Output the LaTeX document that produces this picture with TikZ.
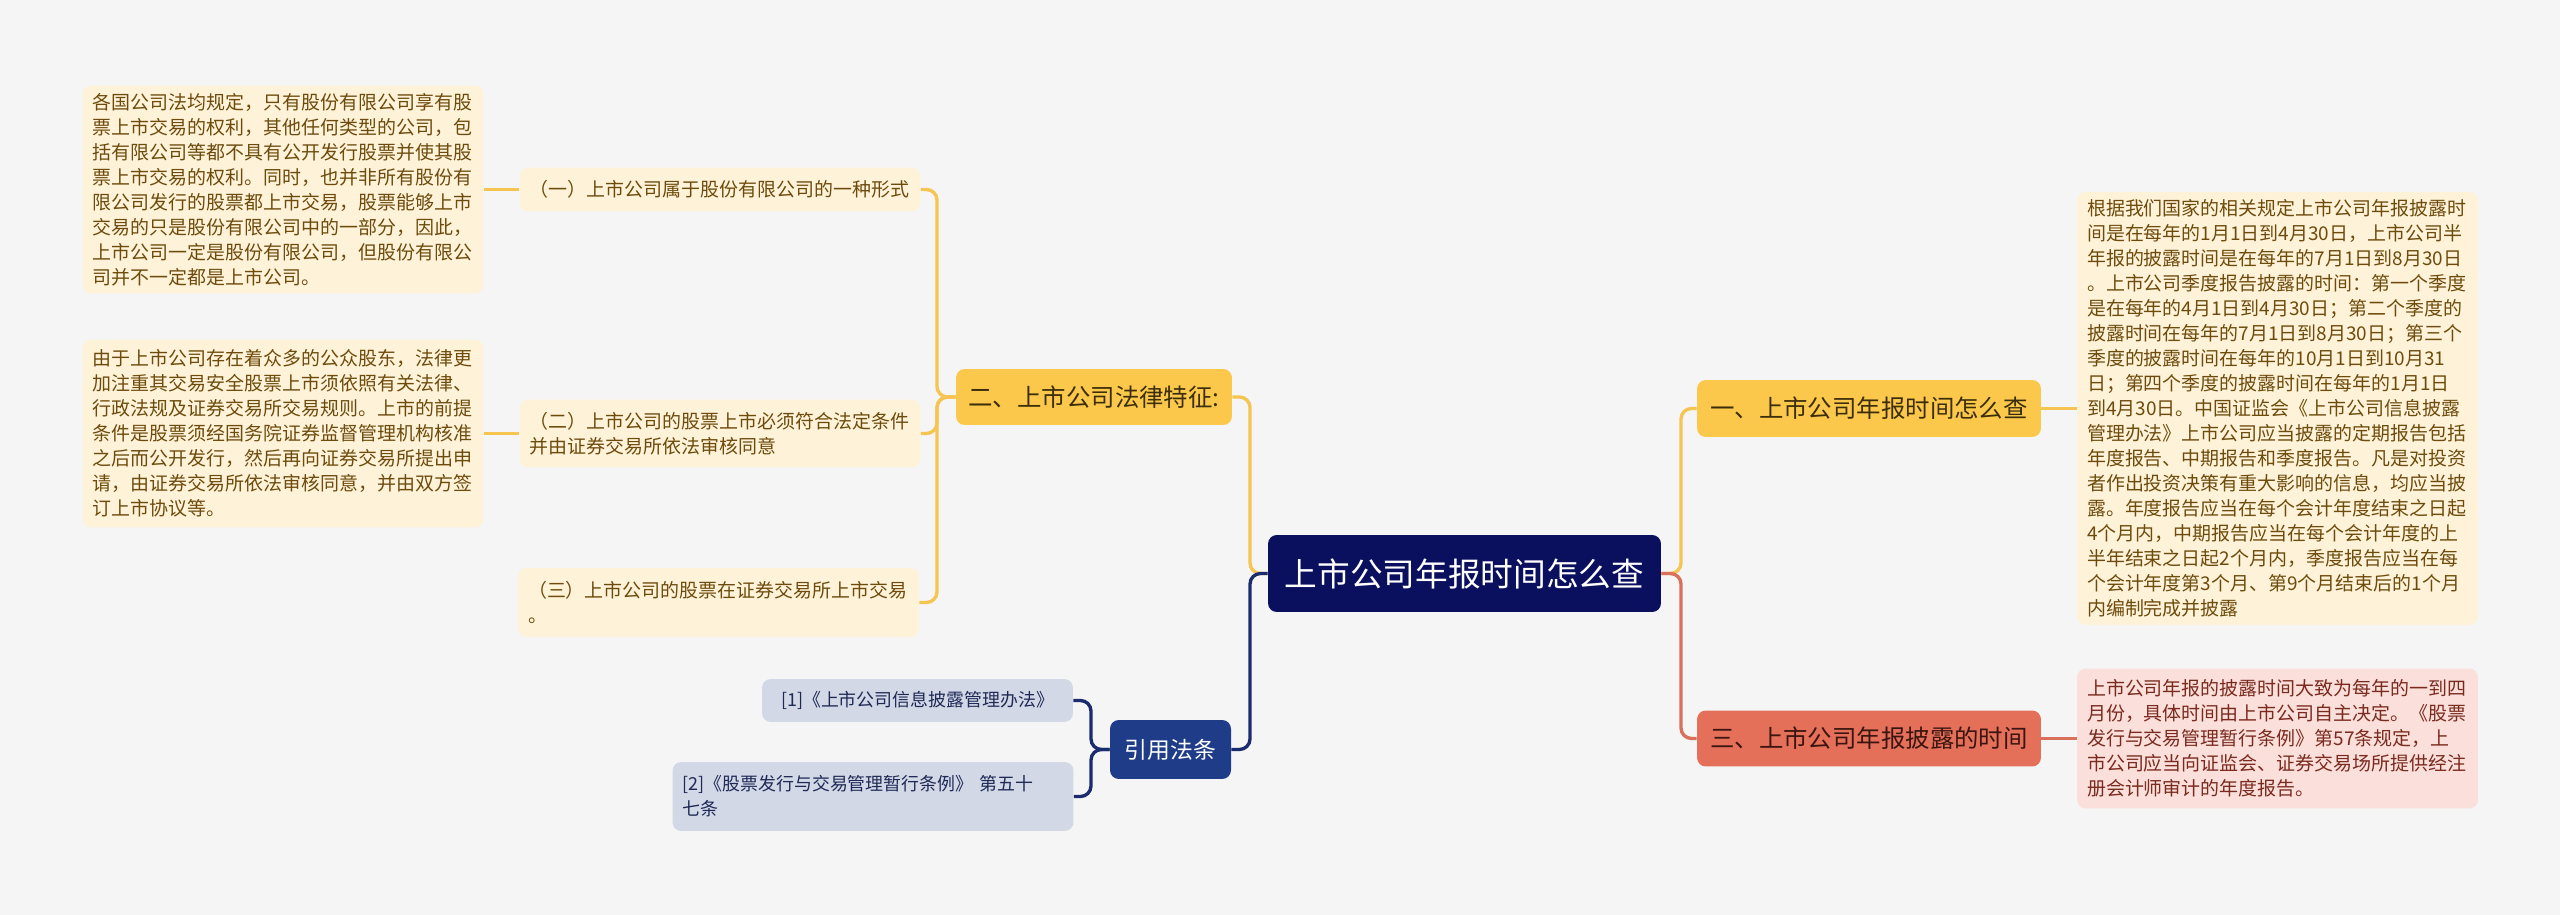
\documentclass[tikz,border=0pt]{standalone}
\usepackage{fontspec}
\setmainfont{Noto Sans CJK SC}
\usepackage{xcolor}
\usetikzlibrary{calc, positioning}

\definecolor{bgcol}{HTML}{F5F5F5}
\definecolor{rootcol}{HTML}{0B105E}
\definecolor{ycol}{HTML}{FCC84C}
\definecolor{ytext}{HTML}{3D2E0A}
\definecolor{creamcol}{HTML}{FEF3D9}
\definecolor{creamtext}{HTML}{6E4B0C}
\definecolor{coralcol}{HTML}{E5705A}
\definecolor{coraltext}{HTML}{3B1510}
\definecolor{pinkcol}{HTML}{FADFDB}
\definecolor{pinktext}{HTML}{7B2A1E}
\definecolor{citecol}{HTML}{1F3C88}
\definecolor{refcol}{HTML}{D3D8E7}
\definecolor{reftext}{HTML}{1E2A55}
\definecolor{yline}{HTML}{F5C451}
\definecolor{rline}{HTML}{D8705B}
\definecolor{nline}{HTML}{1B2C6E}

\tikzset{
  box/.style={rounded corners=5pt, anchor=center, inner ysep=0.08cm},
  leaf/.style={box, text width=7.62cm, inner xsep=0.2cm, align=left,
    font=\fontsize{10.8}{14.23}\selectfont},
  topic/.style={box, fill=ycol, text=ytext, inner xsep=0.24cm,
    font=\fontsize{13.9}{16}\selectfont},
  link/.style={line width=1.9pt, rounded corners=6pt},
  ylink/.style={link, yline},
  rlink/.style={link, rline},
  nlink/.style={link, nline}
}

\begin{document}
\begin{tikzpicture}[x=0.02cm, y=-0.02cm]

    % background and page size
    \fill[bgcol] (0,0) rectangle (2560,915);
    \useasboundingbox (0,0) rectangle (2560,915);

    % 1. central topic
    \node[box, fill=rootcol, text=white, minimum width=7.86cm, minimum height=1.54cm,
      font=\fontsize{18.6}{22}\selectfont] (root) at (1464.5,573.5) {上市公司年报时间怎么查};

    % 2. right side: topics and their notes
    \node[topic, minimum width=6.88cm, minimum height=1.14cm] (sec1) at (1869,408.5) {一、上市公司年报时间怎么查};
    \node[topic, fill=coralcol, text=coraltext, minimum width=6.88cm, minimum height=1.12cm] (sec3) at (1869,738.5) {三、上市公司年报披露的时间};

    \node[leaf, fill=creamcol, text=creamtext, minimum height=8.66cm] (leafA) at (2277.5,408.5) {根据我们国家的相关规定上市公司年报披露时\\间是在每年的1月1日到4月30日，上市公司半\\年报的披露时间是在每年的7月1日到8月30日\\。上市公司季度报告披露的时间：第一个季度\\是在每年的4月1日到4月30日；第二个季度的\\披露时间在每年的7月1日到8月30日；第三个\\季度的披露时间在每年的10月1日到10月31\\日；第四个季度的披露时间在每年的1月1日\\到4月30日。中国证监会《上市公司信息披露\\管理办法》上市公司应当披露的定期报告包括\\年度报告、中期报告和季度报告。凡是对投资\\者作出投资决策有重大影响的信息，均应当披\\露。年度报告应当在每个会计年度结束之日起\\4个月内，中期报告应当在每个会计年度的上\\半年结束之日起2个月内，季度报告应当在每\\个会计年度第3个月、第9个月结束后的1个月\\内编制完成并披露};
    \node[leaf, fill=pinkcol, text=pinktext, minimum height=2.8cm] (leafC) at (2277.5,738.5) {上市公司年报的披露时间大致为每年的一到四\\月份，具体时间由上市公司自主决定。《股票\\发行与交易管理暂行条例》第57条规定，上\\市公司应当向证监会、证券交易场所提供经注\\册会计师审计的年度报告。};

    % 3. left side: legal features
    \node[topic, minimum width=5.52cm, minimum height=1.12cm] (sec2) at (1094,397) {二、上市公司法律特征:};

    \node[leaf, fill=creamcol, text=creamtext, minimum height=0.88cm] (p1) at (720,189.5) {（一）上市公司属于股份有限公司的一种形式};
    \node[leaf, fill=creamcol, text=creamtext, minimum height=1.36cm] (p2) at (720,433.5) {（二）上市公司的股票上市必须符合法定条件\\并由证券交易所依法审核同意};
    \node[leaf, fill=creamcol, text=creamtext, minimum height=1.38cm] (p3) at (718.5,602.5) {（三）上市公司的股票在证券交易所上市交易\\。};

    \node[leaf, fill=creamcol, text=creamtext, minimum height=4.16cm] (q1) at (283,189.5) {各国公司法均规定，只有股份有限公司享有股\\票上市交易的权利，其他任何类型的公司，包\\括有限公司等都不具有公开发行股票并使其股\\票上市交易的权利。同时，也并非所有股份有\\限公司发行的股票都上市交易，股票能够上市\\交易的只是股份有限公司中的一部分，因此，\\上市公司一定是股份有限公司，但股份有限公\\司并不一定都是上市公司。};
    \node[leaf, fill=creamcol, text=creamtext, minimum height=3.76cm] (q2) at (283,433.5) {由于上市公司存在着众多的公众股东，法律更\\加注重其交易安全股票上市须依照有关法律、\\行政法规及证券交易所交易规则。上市的前提\\条件是股票须经国务院证券监督管理机构核准\\之后而公开发行，然后再向证券交易所提出申\\请，由证券交易所依法审核同意，并由双方签\\订上市协议等。};

    % 4. left side: cited rules
    \node[box, fill=citecol, text=white, minimum width=2.42cm, minimum height=1.18cm,
      font=\fontsize{13}{15}\selectfont] (cite) at (1170.5,749.5) {引用法条};
    \node[box, fill=refcol, text=reftext, minimum width=6.22cm, minimum height=0.86cm,
      font=\fontsize{10.2}{14.23}\selectfont] (r1) at (917.5,700.5) {[1]《上市公司信息披露管理办法》};
    \node[leaf, fill=refcol, text=reftext, minimum height=1.38cm,
      font=\fontsize{10.2}{14.23}\selectfont] (r2) at (873,796.5) {[2]《股票发行与交易管理暂行条例》 第五十\\七条};

    % 5. connectors
    \coordinate (rsplit) at (1681,573.5);
    \coordinate (lsplit) at (1250,573.5);
    \coordinate (sec2split) at (937,397);
    \coordinate (citesplit) at (1091,749.5);

    \draw[ylink] (root.east) -- (rsplit) |- (sec1.west);
    \draw[rlink] (root.east) -- (rsplit) |- (sec3.west);
    \draw[ylink] (sec1.east) -- (leafA.west);
    \draw[rlink] (sec3.east) -- (leafC.west);

    \draw[ylink] (root.west) -- (lsplit) |- (sec2.east);
    \draw[nlink] (root.west) -- (lsplit) |- (cite.east);

    \foreach \p in {p1,p2,p3}
      \draw[ylink] (sec2.west) -- (sec2split) |- (\p.east);
    \draw[ylink] (p1.west) -- (q1.east);
    \draw[ylink] (p2.west) -- (q2.east);

    \foreach \r in {r1,r2}
      \draw[nlink] (cite.west) -- (citesplit) |- (\r.east);
\end{tikzpicture}
\end{document}
